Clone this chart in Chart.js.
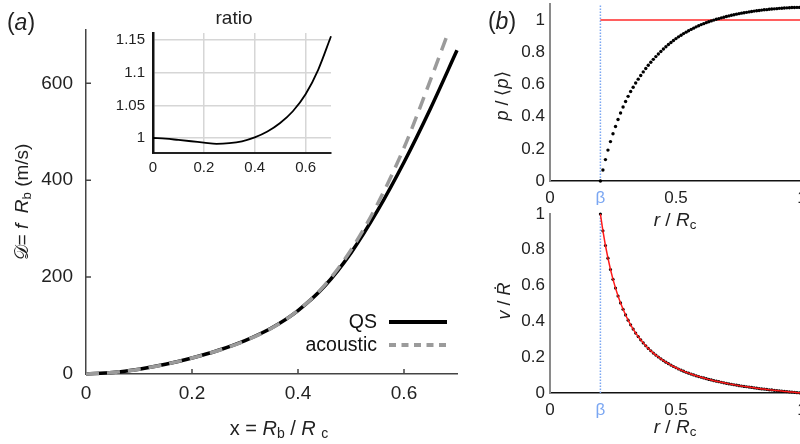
<!DOCTYPE html>
<html>
<head>
<meta charset="utf-8">
<script src="https://cdn.jsdelivr.net/npm/chart.js@4.4.0/dist/chart.umd.min.js"></script>
<style>
html, body { margin: 0; padding: 0; background: #fff; }
body { width: 800px; height: 444px; position: relative; overflow: hidden;
       font-family: "Liberation Sans", Arial, sans-serif; color: #222; }
canvas { position: absolute; }
.lbl { position: absolute; white-space: nowrap; transform: translate(-50%, -50%); }
.rot { transform: translate(-50%, -50%) rotate(-90deg); }
sub { font-size: 70%; vertical-align: -0.25em; line-height: 0; }
.scr { font-family: "DejaVu Serif", "DejaVu Sans", "Noto Sans", serif; }
</style>
</head>
<body>
<canvas id="mainA" width="470" height="444" style="left:0;top:0"></canvas>
<canvas id="insetA" width="240" height="180" style="left:100px;top:0"></canvas>
<canvas id="topB" width="330" height="205" style="left:480px;top:0"></canvas>
<canvas id="botB" width="330" height="239" style="left:480px;top:205px"></canvas>

<div class="lbl" style="left:21px;top:22px;font-size:23px">(<i>a</i>)</div>
<div class="lbl rot" style="left:21px;top:202px;font-size:19px"><span class="scr">𝒟</span>= <i>f</i>&nbsp; <i>R</i><sub>b</sub> (m/s)</div>
<div class="lbl" style="left:279px;top:428px;font-size:20px">x = <i>R</i><sub>b</sub> / <i>R</i> <sub>c</sub></div>
<div class="lbl" style="left:234px;top:18px;font-size:19px">ratio</div>

<div class="lbl" style="left:502px;top:21px;font-size:23px">(<i>b</i>)</div>
<div class="lbl rot" style="left:502px;top:96px;font-size:18px"><i>p</i> / ⟨<i>p</i>⟩</div>
<div class="lbl" style="left:675px;top:220px;font-size:19px"><i>r</i> / <i>R</i><sub>c</sub></div>
<div class="lbl rot" style="left:504px;top:301px;font-size:18px"><i>v</i> / <i>R&#775;</i></div>
<div class="lbl" style="left:675px;top:427px;font-size:19px"><i>r</i> / <i>R</i><sub>c</sub></div>

<script>
// ---- panel (a): D = f Rb against x = Rb/Rc ----
const xQS = [0, 0.05, 0.1, 0.15, 0.2, 0.25, 0.3, 0.35, 0.4, 0.45, 0.5, 0.55, 0.6, 0.65, 0.7];
const qsValues = [0, 3, 10, 20, 33, 49, 69, 95, 131, 181, 250, 337, 437, 548, 668];
const xAcoustic = [0, 0.05, 0.1, 0.15, 0.2, 0.25, 0.3, 0.35, 0.4, 0.45, 0.5, 0.55, 0.6, 0.65, 0.68];
const acousticValues = [0, 3, 10, 20, 33, 48.5, 68.5, 94.5, 131, 183, 256, 351, 467, 607, 695];
const aXTicks = [0, 0.2, 0.4, 0.6];
const aYTicks = [0, 200, 400, 600];

// inset: acoustic / QS
const xRatio = [0, 0.05, 0.1, 0.15, 0.2, 0.25, 0.3, 0.35, 0.4, 0.45, 0.5, 0.55, 0.6, 0.65, 0.7];
const ratioValues = [1.000, 0.999, 0.997, 0.995, 0.993, 0.991, 0.992, 0.995, 1.001, 1.010, 1.023, 1.041, 1.067, 1.105, 1.156];
const insetXTicks = [0, 0.2, 0.4, 0.6];
const insetYTicks = [1, 1.05, 1.1, 1.15];

// ---- panel (b): profiles against r/Rc ----
const beta = 0.2;
const rValues = [0.20, 0.21, 0.22, 0.23, 0.24, 0.25, 0.26, 0.27, 0.28, 0.29,
                 0.30, 0.31, 0.32, 0.33, 0.34, 0.35, 0.36, 0.37, 0.38, 0.39,
                 0.40, 0.41, 0.42, 0.43, 0.44, 0.45, 0.46, 0.47, 0.48, 0.49,
                 0.50, 0.51, 0.52, 0.53, 0.54, 0.55, 0.56, 0.57, 0.58, 0.59,
                 0.60, 0.61, 0.62, 0.63, 0.64, 0.65, 0.66, 0.67, 0.68, 0.69,
                 0.70, 0.71, 0.72, 0.73, 0.74, 0.75, 0.76, 0.77, 0.78, 0.79,
                 0.80, 0.81, 0.82, 0.83, 0.84, 0.85, 0.86, 0.87, 0.88, 0.89,
                 0.90, 0.91, 0.92, 0.93, 0.94, 0.95, 0.96, 0.97, 0.98, 0.99, 1.00];
const pValues = [0, 0.068, 0.133, 0.192, 0.245, 0.294, 0.339, 0.382, 0.423, 0.460,
                 0.494, 0.526, 0.556, 0.583, 0.609, 0.633, 0.656, 0.678, 0.699, 0.719,
                 0.738, 0.756, 0.773, 0.789, 0.805, 0.820, 0.834, 0.848, 0.861, 0.873,
                 0.885, 0.896, 0.906, 0.916, 0.925, 0.934, 0.942, 0.950, 0.958, 0.965,
                 0.972, 0.978, 0.984, 0.990, 0.995, 1.000, 1.005, 1.009, 1.014, 1.018,
                 1.022, 1.026, 1.030, 1.033, 1.037, 1.040, 1.043, 1.046, 1.048, 1.051,
                 1.053, 1.056, 1.058, 1.060, 1.062, 1.064, 1.065, 1.067, 1.069, 1.070,
                 1.071, 1.073, 1.074, 1.075, 1.076, 1.077, 1.078, 1.078, 1.079, 1.079, 1.080];
const vValues = [1.000, 0.906, 0.824, 0.753, 0.690, 0.635, 0.586, 0.542, 0.503, 0.468,
                 0.436, 0.407, 0.381, 0.357, 0.335, 0.315, 0.297, 0.280, 0.264, 0.249,
                 0.236, 0.223, 0.212, 0.201, 0.191, 0.181, 0.172, 0.164, 0.156, 0.148,
                 0.141, 0.134, 0.128, 0.122, 0.116, 0.111, 0.106, 0.101, 0.096, 0.092,
                 0.088, 0.084, 0.080, 0.076, 0.073, 0.069, 0.066, 0.063, 0.060, 0.057,
                 0.054, 0.051, 0.049, 0.046, 0.044, 0.041, 0.039, 0.037, 0.035, 0.033,
                 0.031, 0.029, 0.027, 0.025, 0.023, 0.022, 0.020, 0.018, 0.017, 0.015,
                 0.014, 0.012, 0.011, 0.009, 0.008, 0.006, 0.005, 0.004, 0.002, 0.001, 0];
const pMean = 1;
const bXTicks = [0, beta, 0.5, 1];
const bXLabels = ['0', 'β', '0.5', '1'];
const bYTicks = [0, 0.2, 0.4, 0.6, 0.8, 1];

const FONT = '"Liberation Sans", Arial, sans-serif';
const TEXT = '#222';
const BLUE = '#7aa6f2';

function pts(xs, ys) {
    return xs.map((x, i) => ({ x: x, y: ys[i] }));
}

function fixedTicks(list) {
    return function(scale) {
        scale.ticks = list.map(v => ({ value: v }));
    };
}

// 軸の内側に短い目盛りを描く
const innerTicks = {
    id: 'innerTicks',
    afterDraw(chart, args, opts) {
        const { ctx, chartArea: a, scales: { x, y } } = chart;
        ctx.save();
        ctx.strokeStyle = opts.color;
        ctx.lineWidth = 1.5;
        ctx.beginPath();
        x.ticks.forEach(t => {
            if (t.value === x.min) return;
            const px = x.getPixelForValue(t.value);
            ctx.moveTo(px, a.bottom);
            ctx.lineTo(px, a.bottom - opts.len);
        });
        y.ticks.forEach(t => {
            if (t.value === y.min) return;
            const py = y.getPixelForValue(t.value);
            ctx.moveTo(a.left, py);
            ctx.lineTo(a.left + opts.len, py);
        });
        ctx.stroke();
        ctx.restore();
    }
};

// 凡例（テキストが左、線が右）
const legendRight = {
    id: 'legendRight',
    afterDraw(chart, args, opts) {
        const ctx = chart.ctx;
        ctx.save();
        ctx.font = '19.5px ' + FONT;
        ctx.fillStyle = '#111';
        ctx.textAlign = 'right';
        ctx.textBaseline = 'middle';
        opts.items.forEach((item, i) => {
            const ds = chart.data.datasets[item];
            const yy = opts.top + i * opts.rowGap;
            ctx.fillText(ds.label, opts.textRight, yy + 1);
            ctx.strokeStyle = ds.borderColor;
            ctx.lineWidth = 4;
            ctx.setLineDash(ds.borderDash ? [7, 5.5] : []);
            ctx.beginPath();
            ctx.moveTo(opts.textRight + 12, yy);
            ctx.lineTo(opts.textRight + 70, yy);
            ctx.stroke();
        });
        ctx.restore();
    }
};

function axis(min, max, ticks, opts) {
    return Object.assign({
        type: 'linear',
        min: min,
        max: max,
        afterBuildTicks: fixedTicks(ticks),
        grid: { display: false, drawTicks: false },
        border: { color: '#444', width: 1.5 },
        ticks: { color: TEXT, font: { family: FONT, size: 18 }, callback: v => String(v) }
    }, opts);
}

// ---- (a) main chart ----
new Chart(document.getElementById('mainA'), {
    type: 'line',
    data: {
        datasets: [{
            label: 'acoustic',
            data: pts(xAcoustic, acousticValues),
            borderColor: '#9b9b9b',
            borderWidth: 3.5,
            borderDash: [13, 8],
            pointRadius: 0,
            cubicInterpolationMode: 'monotone',
            clip: false
        }, {
            label: 'QS',
            data: pts(xQS, qsValues),
            borderColor: '#000',
            borderWidth: 3.5,
            pointRadius: 0,
            cubicInterpolationMode: 'monotone',
            clip: false
        }]
    },
    options: {
        responsive: false,
        animation: false,
        layout: { padding: { top: 30, right: 13, left: 0, bottom: 0 } },
        plugins: {
            legend: { display: false },
            tooltip: { enabled: false },
            innerTicks: { len: 5, color: '#444' },
            legendRight: { items: [1, 0], textRight: 377, top: 322, rowGap: 23 }
        },
        scales: {
            x: axis(0, 0.7, aXTicks, {
                ticks: { color: TEXT, padding: 8, font: { family: FONT, size: 19 }, callback: v => String(v) },
                afterFit: s => { s.height = 70; s.paddingLeft = 0; s.paddingRight = 0; }
            }),
            y: axis(0, 710, aYTicks, {
                ticks: { color: TEXT, padding: 13, font: { family: FONT, size: 19 }, callback: v => String(v) },
                afterFit: s => { s.width = 86; s.paddingTop = 0; s.paddingBottom = 0; }
            })
        }
    },
    plugins: [innerTicks, legendRight]
});

// ---- (a) inset: ratio ----
new Chart(document.getElementById('insetA'), {
    type: 'line',
    data: {
        datasets: [{
            label: 'ratio',
            data: pts(xRatio, ratioValues),
            borderColor: '#000',
            borderWidth: 1.8,
            pointRadius: 0,
            cubicInterpolationMode: 'monotone',
            clip: false
        }]
    },
    options: {
        responsive: false,
        animation: false,
        layout: { padding: { top: 33, right: 9, left: 0, bottom: 0 } },
        plugins: { legend: { display: false }, tooltip: { enabled: false } },
        scales: {
            x: axis(0, 0.7, insetXTicks, {
                grid: { display: true, drawTicks: false, color: '#d6d6d6', lineWidth: 1.5 },
                border: { color: '#222', width: 2 },
                ticks: { color: TEXT, padding: 6, font: { family: FONT, size: 15 }, callback: v => String(v) },
                afterFit: s => { s.height = 27; s.paddingLeft = 0; s.paddingRight = 0; }
            }),
            y: axis(0.977, 1.161, insetYTicks, {
                grid: { display: true, drawTicks: false, color: '#d6d6d6', lineWidth: 1.5 },
                border: { color: '#111', width: 2.5 },
                ticks: { color: TEXT, padding: 8, font: { family: FONT, size: 15 }, callback: v => String(v) },
                afterFit: s => { s.width = 53; s.paddingTop = 0; s.paddingBottom = 0; }
            })
        }
    }
});

// ---- (b) shared axis settings ----
function bXAxis(height) {
    return axis(0, 1, bXTicks, {
        border: { color: '#111', width: 1.5 },
        ticks: {
            padding: 7,
            font: { family: FONT, size: 17 },
            color: c => (c.tick && c.tick.value === beta) ? BLUE : TEXT,
            callback: (v, i) => bXLabels[i]
        },
        afterFit: s => { s.height = height; s.paddingLeft = 0; s.paddingRight = 0; }
    });
}
function bYAxis(max) {
    return axis(0, max, bYTicks, {
        border: { color: '#8a8a8a', width: 2 },
        ticks: { color: TEXT, padding: 5, font: { family: FONT, size: 17 }, callback: v => String(v) },
        afterFit: s => { s.width = 70; s.paddingTop = 0; s.paddingBottom = 0; }
    });
}

// ---- (b) top: p / <p> ----
new Chart(document.getElementById('topB'), {
    type: 'line',
    data: {
        datasets: [{
            label: 'p',
            data: pts(rValues, pValues),
            showLine: false,
            pointRadius: 1.7,
            pointBorderWidth: 0,
            pointBackgroundColor: '#000',
            clip: false
        }, {
            label: 'mean',
            data: [{ x: beta, y: pMean }, { x: 1, y: pMean }],
            borderColor: '#ff2a2a',
            borderWidth: 1.5,
            pointRadius: 0,
            clip: false
        }, {
            label: 'beta',
            data: [{ x: beta, y: 0 }, { x: beta, y: 1.1 }],
            borderColor: BLUE,
            borderWidth: 1.5,
            borderDash: [1.5, 1.5],
            pointRadius: 0,
            clip: false
        }]
    },
    options: {
        responsive: false,
        animation: false,
        layout: { padding: { top: 2, right: 8, left: 0, bottom: 0 } },
        plugins: { legend: { display: false }, tooltip: { enabled: false } },
        scales: { x: bXAxis(24), y: bYAxis(1.1) }
    }
});

// ---- (b) bottom: v / Rdot ----
new Chart(document.getElementById('botB'), {
    type: 'line',
    data: {
        datasets: [{
            label: 'model',
            data: pts(rValues, vValues),
            borderColor: '#ff1a1a',
            borderWidth: 1.5,
            pointRadius: 0,
            clip: false
        }, {
            label: 'v',
            data: pts(rValues, vValues),
            showLine: false,
            pointRadius: 1.6,
            pointBorderWidth: 0,
            pointBackgroundColor: '#000',
            clip: false
        }, {
            label: 'beta',
            data: [{ x: beta, y: 0 }, { x: beta, y: 1 }],
            borderColor: BLUE,
            borderWidth: 1.5,
            borderDash: [1.5, 1.5],
            pointRadius: 0,
            clip: false
        }]
    },
    options: {
        responsive: false,
        animation: false,
        layout: { padding: { top: 9, right: 8, left: 0, bottom: 0 } },
        plugins: { legend: { display: false }, tooltip: { enabled: false } },
        scales: { x: bXAxis(51), y: bYAxis(1) }
    }
});
</script>
</body>
</html>
